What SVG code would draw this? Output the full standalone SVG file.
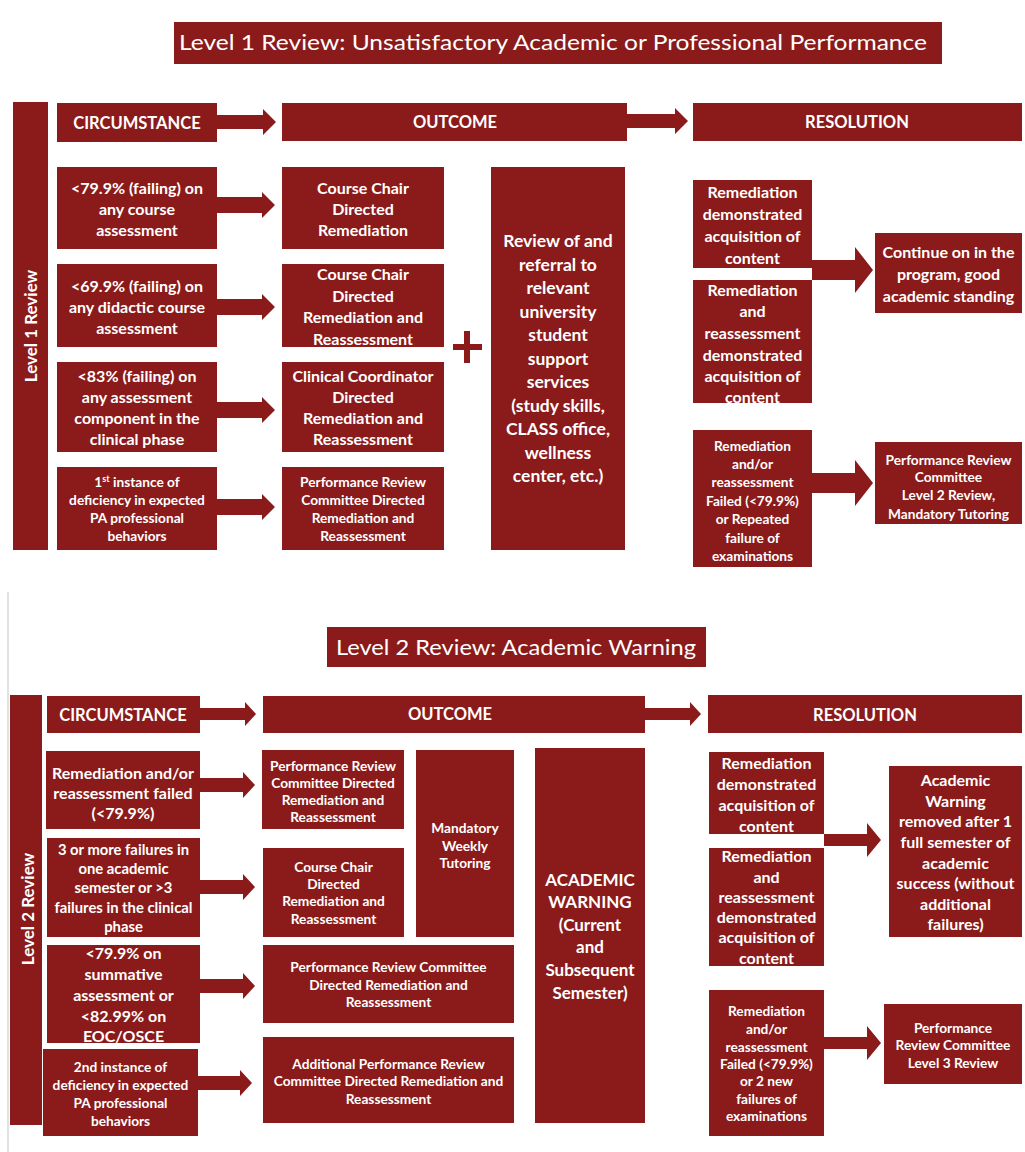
<svg xmlns="http://www.w3.org/2000/svg" width="1025" height="1152" viewBox="0 0 1025 1152">
<style>
.b{fill:#8B1B1A}
.t{fill:#fff;font-family:Lato,"Liberation Sans",sans-serif;font-weight:700;text-anchor:middle}
.h{font-size:16.5px}
.v{font-size:17px}
.s15{font-size:17.5px}
.s14{font-size:16px}
.s13{font-size:14.8px}
.s12{font-size:13.7px}
.aw{font-size:17px}
.ti{fill:#fff;font-family:Lato,"Liberation Sans",sans-serif;font-weight:400;text-anchor:middle;font-size:22px}
.ar{fill:#8B1B1A}
</style>
<rect width="1025" height="1152" fill="#fff"/>
<line x1="8" y1="592" x2="8" y2="1152" stroke="#d8d8d8" stroke-width="1.5"/>

<!-- Level 1 -->
<g id="title1"><rect class="b" x="174" y="22" width="768" height="42"/><text class="ti" x="553" y="50" textLength="748" lengthAdjust="spacingAndGlyphs">Level 1 Review: Unsatisfactory Academic or Professional Performance</text></g>
<g id="bar1"><rect class="b" x="13" y="102" width="35" height="448"/><text class="t v" transform="rotate(-90 31 326)" x="31" y="332">Level 1 Review</text></g>
<g id="h1c"><rect class="b" x="57" y="103" width="160" height="39"/><text class="t h" x="137" y="129">CIRCUMSTANCE</text></g>
<g id="h1o"><rect class="b" x="282" y="103" width="345" height="38"/><text class="t h" x="455" y="128">OUTCOME</text></g>
<g id="h1r"><rect class="b" x="693" y="103" width="329" height="38"/><text class="t h" x="857" y="128">RESOLUTION</text></g>

<g id="c1"><rect class="b" x="57" y="167" width="160" height="82"/><text class="t s14"><tspan x="137" y="194">&lt;79.9% (failing) on</tspan><tspan x="137" y="215">any course</tspan><tspan x="137" y="236">assessment</tspan></text></g>
<g id="c2"><rect class="b" x="57" y="264" width="160" height="83"/><text class="t s14"><tspan x="137" y="292">&lt;69.9% (failing) on</tspan><tspan x="137" y="313">any didactic course</tspan><tspan x="137" y="334">assessment</tspan></text></g>
<g id="c3"><rect class="b" x="57" y="362" width="160" height="90"/><text class="t s14"><tspan x="137" y="382">&lt;83% (failing) on</tspan><tspan x="137" y="403">any assessment</tspan><tspan x="137" y="424">component in the</tspan><tspan x="137" y="445">clinical phase</tspan></text></g>
<g id="c4"><rect class="b" x="57" y="467" width="160" height="83"/><text class="t s12"><tspan x="137" y="487">1<tspan font-size="9" baseline-shift="super">st</tspan> instance of</tspan><tspan x="137" y="505">deficiency in expected</tspan><tspan x="137" y="523">PA professional</tspan><tspan x="137" y="541">behaviors</tspan></text></g>

<g id="o1"><rect class="b" x="282" y="167" width="162" height="82"/><text class="t s14"><tspan x="363" y="194">Course Chair</tspan><tspan x="363" y="215">Directed</tspan><tspan x="363" y="236">Remediation</tspan></text></g>
<g id="o2"><rect class="b" x="282" y="264" width="162" height="83"/><text class="t s14"><tspan x="363" y="280">Course Chair</tspan><tspan x="363" y="302">Directed</tspan><tspan x="363" y="323">Remediation and</tspan><tspan x="363" y="345">Reassessment</tspan></text></g>
<g id="o3"><rect class="b" x="282" y="362" width="162" height="90"/><text class="t s14"><tspan x="363" y="382">Clinical Coordinator</tspan><tspan x="363" y="403">Directed</tspan><tspan x="363" y="424">Remediation and</tspan><tspan x="363" y="445">Reassessment</tspan></text></g>
<g id="o4"><rect class="b" x="282" y="467" width="162" height="83"/><text class="t s12"><tspan x="363" y="487">Performance Review</tspan><tspan x="363" y="505">Committee Directed</tspan><tspan x="363" y="523">Remediation and</tspan><tspan x="363" y="541">Reassessment</tspan></text></g>

<g id="plus"><rect class="b" x="464" y="331" width="6" height="32"/><rect class="b" x="453" y="344" width="29" height="6"/></g>

<g id="review"><rect class="b" x="491" y="167" width="134" height="383"/><text class="t s15"><tspan x="558" y="247">Review of and</tspan><tspan x="558" y="271">referral to</tspan><tspan x="558" y="294">relevant</tspan><tspan x="558" y="318">university</tspan><tspan x="558" y="341">student</tspan><tspan x="558" y="365">support</tspan><tspan x="558" y="388">services</tspan><tspan x="558" y="412">(study skills,</tspan><tspan x="558" y="435">CLASS office,</tspan><tspan x="558" y="459">wellness</tspan><tspan x="558" y="482">center, etc.)</tspan></text></g>

<g id="r1"><rect class="b" x="693" y="180" width="119" height="88"/><text class="t s14"><tspan x="752.5" y="198">Remediation</tspan><tspan x="752.5" y="220">demonstrated</tspan><tspan x="752.5" y="242">acquisition of</tspan><tspan x="752.5" y="264">content</tspan></text></g>
<g id="r2"><rect class="b" x="693" y="280" width="119" height="123"/><text class="t s14"><tspan x="752.5" y="296">Remediation</tspan><tspan x="752.5" y="317">and</tspan><tspan x="752.5" y="339">reassessment</tspan><tspan x="752.5" y="361">demonstrated</tspan><tspan x="752.5" y="382">acquisition of</tspan><tspan x="752.5" y="403">content</tspan></text></g>
<g id="r3"><rect class="b" x="693" y="430" width="119" height="137"/><text class="t s12"><tspan x="752.5" y="451">Remediation</tspan><tspan x="752.5" y="469">and/or</tspan><tspan x="752.5" y="487">reassessment</tspan><tspan x="752.5" y="506">Failed (&lt;79.9%)</tspan><tspan x="752.5" y="524">or Repeated</tspan><tspan x="752.5" y="543">failure of</tspan><tspan x="752.5" y="561">examinations</tspan></text></g>
<g id="cont"><rect class="b" x="875" y="233" width="147" height="80"/><text class="t s14"><tspan x="948.5" y="258">Continue on in the</tspan><tspan x="948.5" y="280">program, good</tspan><tspan x="948.5" y="302">academic standing</tspan></text></g>
<g id="prc2"><rect class="b" x="875" y="442" width="147" height="82"/><text class="t s12"><tspan x="948.5" y="465">Performance Review</tspan><tspan x="948.5" y="482">Committee</tspan><tspan x="948.5" y="500">Level 2 Review,</tspan><tspan x="948.5" y="519">Mandatory Tutoring</tspan></text></g>

<!-- Level 2 -->
<g id="title2"><rect class="b" x="327" y="627" width="379" height="40"/><text class="ti" x="516" y="655" textLength="360" lengthAdjust="spacingAndGlyphs">Level 2 Review: Academic Warning</text></g>
<g id="bar2"><rect class="b" x="10" y="695" width="32" height="430"/><text class="t v" transform="rotate(-90 28 909)" x="28" y="915">Level 2 Review</text></g>
<g id="h2c"><rect class="b" x="47" y="696" width="153" height="37"/><text class="t h" x="123" y="721">CIRCUMSTANCE</text></g>
<g id="h2o"><rect class="b" x="263" y="696" width="382" height="37"/><text class="t h" x="450" y="720">OUTCOME</text></g>
<g id="h2r"><rect class="b" x="708" y="695" width="314" height="38"/><text class="t h" x="865" y="721">RESOLUTION</text></g>

<g id="d1"><rect class="b" x="46" y="751" width="154" height="78"/><text class="t s14"><tspan x="123" y="779">Remediation and/or</tspan><tspan x="123" y="799">reassessment failed</tspan><tspan x="123" y="819">(&lt;79.9%)</tspan></text></g>
<g id="d2"><rect class="b" x="47" y="838" width="153" height="99"/><text class="t s13"><tspan x="123.5" y="855">3 or more failures in</tspan><tspan x="123.5" y="874">one academic</tspan><tspan x="123.5" y="893">semester or &gt;3</tspan><tspan x="123.5" y="913">failures in the clinical</tspan><tspan x="123.5" y="932">phase</tspan></text></g>
<g id="d3"><rect class="b" x="47" y="945" width="153" height="98"/><text class="t s14"><tspan x="123.5" y="959">&lt;79.9% on</tspan><tspan x="123.5" y="980">summative</tspan><tspan x="123.5" y="1001">assessment or</tspan><tspan x="123.5" y="1022">&lt;82.99% on</tspan><tspan x="123.5" y="1042">EOC/OSCE</tspan></text></g>
<g id="d4"><rect class="b" x="43" y="1049" width="155" height="87"/><text class="t s12"><tspan x="120.5" y="1072">2nd instance of</tspan><tspan x="120.5" y="1090">deficiency in expected</tspan><tspan x="120.5" y="1108">PA professional</tspan><tspan x="120.5" y="1126">behaviors</tspan></text></g>

<g id="p1"><rect class="b" x="262" y="750" width="142" height="79"/><text class="t s12"><tspan x="333" y="771">Performance Review</tspan><tspan x="333" y="788">Committee Directed</tspan><tspan x="333" y="805">Remediation and</tspan><tspan x="333" y="822">Reassessment</tspan></text></g>
<g id="tut"><rect class="b" x="416" y="750" width="98" height="187"/><text class="t s12"><tspan x="465" y="833">Mandatory</tspan><tspan x="465" y="851">Weekly</tspan><tspan x="465" y="868">Tutoring</tspan></text></g>
<g id="p2"><rect class="b" x="263" y="848" width="141" height="89"/><text class="t s12"><tspan x="333.5" y="872">Course Chair</tspan><tspan x="333.5" y="889">Directed</tspan><tspan x="333.5" y="906">Remediation and</tspan><tspan x="333.5" y="924">Reassessment</tspan></text></g>
<g id="p3"><rect class="b" x="263" y="945" width="251" height="78"/><text class="t s12"><tspan x="388.5" y="972">Performance Review Committee</tspan><tspan x="388.5" y="990">Directed Remediation and</tspan><tspan x="388.5" y="1007">Reassessment</tspan></text></g>
<g id="p4"><rect class="b" x="263" y="1037" width="251" height="86"/><text class="t s12"><tspan x="388.5" y="1069">Additional Performance Review</tspan><tspan x="388.5" y="1086">Committee Directed Remediation and</tspan><tspan x="388.5" y="1104">Reassessment</tspan></text></g>
<g id="aw"><rect class="b" x="535" y="748" width="110" height="375"/><text class="t aw"><tspan x="590" y="886">ACADEMIC</tspan><tspan x="590" y="908">WARNING</tspan><tspan x="590" y="931">(Current</tspan><tspan x="590" y="953">and</tspan><tspan x="590" y="976">Subsequent</tspan><tspan x="590" y="999">Semester)</tspan></text></g>

<g id="e1"><rect class="b" x="709" y="752" width="115" height="82"/><text class="t s14"><tspan x="766.5" y="769">Remediation</tspan><tspan x="766.5" y="790">demonstrated</tspan><tspan x="766.5" y="811">acquisition of</tspan><tspan x="766.5" y="832">content</tspan></text></g>
<g id="e2"><rect class="b" x="709" y="848" width="115" height="118"/><text class="t s14"><tspan x="766.5" y="862">Remediation</tspan><tspan x="766.5" y="883">and</tspan><tspan x="766.5" y="903">reassessment</tspan><tspan x="766.5" y="923">demonstrated</tspan><tspan x="766.5" y="943">acquisition of</tspan><tspan x="766.5" y="964">content</tspan></text></g>
<g id="e3"><rect class="b" x="709" y="990" width="115" height="146"/><text class="t s12"><tspan x="766.5" y="1016">Remediation</tspan><tspan x="766.5" y="1034">and/or</tspan><tspan x="766.5" y="1052">reassessment</tspan><tspan x="766.5" y="1069">Failed (&lt;79.9%)</tspan><tspan x="766.5" y="1086">or 2 new</tspan><tspan x="766.5" y="1104">failures of</tspan><tspan x="766.5" y="1121">examinations</tspan></text></g>
<g id="awr"><rect class="b" x="889" y="766" width="133" height="171"/><text class="t s14"><tspan x="955.5" y="786">Academic</tspan><tspan x="955.5" y="807">Warning</tspan><tspan x="955.5" y="827">removed after 1</tspan><tspan x="955.5" y="848">full semester of</tspan><tspan x="955.5" y="869">academic</tspan><tspan x="955.5" y="889">success (without</tspan><tspan x="955.5" y="910">additional</tspan><tspan x="955.5" y="930">failures)</tspan></text></g>
<g id="l3"><rect class="b" x="884" y="1004" width="138" height="80"/><text class="t s12"><tspan x="953" y="1033">Performance</tspan><tspan x="953" y="1050">Review Committee</tspan><tspan x="953" y="1068">Level 3 Review</tspan></text></g>

<g id="connectors">
<path class="ar" d="M217 115H263V109L276 122L263 135V129H217Z"/>
<path class="ar" d="M627 114H675V108L688 121L675 134V128H627Z"/>
<path class="ar" d="M217 197H262V192L275 205L262 218V213H217Z"/>
<path class="ar" d="M217 299H262V294L275 307L262 320V315H217Z"/>
<path class="ar" d="M217 402H262V397L275 410L262 423V418H217Z"/>
<path class="ar" d="M217 499H262V494L275 507L262 520V515H217Z"/>
<path class="ar" d="M812 260H855V247L873 270L855 293V280H812Z"/>
<path class="ar" d="M812 473H855V460L873 483L855 506V493H812Z"/>
<path class="ar" d="M200 708H245V702L256 714L245 726V720H200Z"/>
<path class="ar" d="M645 708H690V702L701 714L690 726V720H645Z"/>
<path class="ar" d="M200 778H243V772L255 785L243 798V792H200Z"/>
<path class="ar" d="M200 880H243V874L255 887L243 900V894H200Z"/>
<path class="ar" d="M200 979H243V973L255 986L243 999V993H200Z"/>
<path class="ar" d="M198 1076H240V1070L252 1083L240 1096V1090H198Z"/>
<path class="ar" d="M824 834H867V823L881 840L867 857V846H824Z"/>
<path class="ar" d="M824 1037H867V1026L881 1043L867 1060V1049H824Z"/>
</g>
</svg>
